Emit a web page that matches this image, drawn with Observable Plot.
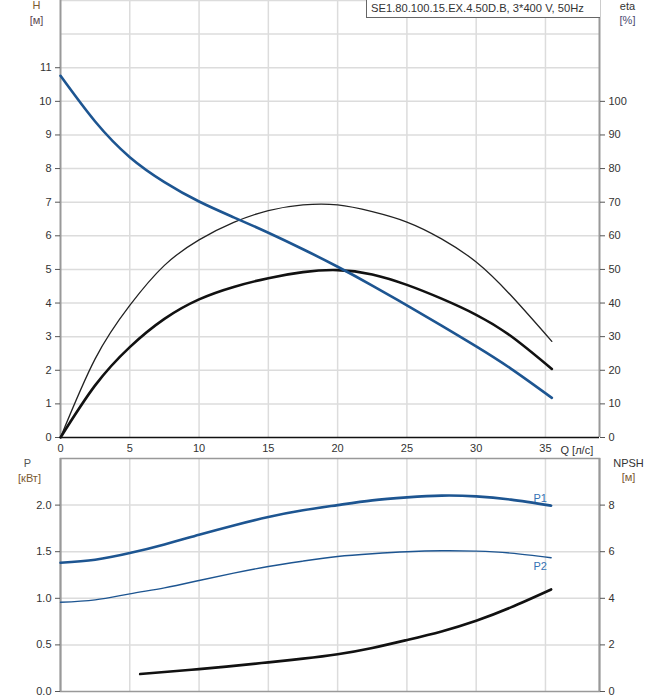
<!DOCTYPE html>
<html>
<head>
<meta charset="utf-8">
<script src="https://cdn.jsdelivr.net/npm/d3@7"></script>
<script src="https://cdn.jsdelivr.net/npm/@observablehq/plot@0.6"></script>
<style>
  body { margin: 0; background: white; }
  #wrap { position: relative; width: 658px; height: 700px; font-family: "Liberation Sans", Arial, sans-serif; }
  #title { position: absolute; left: 366px; top: 0; width: 229px; height: 17px; border-left: 1px solid #666; border-bottom: 1px solid #666; background: white; font-family: "Liberation Sans", Arial, sans-serif; font-size: 11.2px; color: #333; padding-left: 4px; line-height: 17px; white-space: nowrap; }
  svg { display: block; }
</style>
</head>
<body>
<div id="wrap"><div id="charts"></div><div id="title"></div></div>
<script>
// ---- data ----
const titleText = "SE1.80.100.15.EX.4.50D.B, 3*400 V, 50Hz";
const qTicks = [0, 5, 10, 15, 20, 25, 30, 35];
const hTicks = [0, 1, 2, 3, 4, 5, 6, 7, 8, 9, 10, 11];
const hGrid = [1, 2, 3, 4, 5, 6, 7, 8, 9, 10, 11, 12, 13];
const etaTicks = [0, 10, 20, 30, 40, 50, 60, 70, 80, 90, 100];
const pTicks = [0, 0.5, 1.0, 1.5, 2.0];
const npshTicks = [0, 2, 4, 6, 8];

const qTop = [0, 2.5, 5, 7.5, 10, 12.5, 15, 17.5, 20, 22.5, 25, 27.5, 30, 32.5, 35.46];
const hVals = [10.76, 9.4, 8.34, 7.6, 7.02, 6.55, 6.09, 5.6, 5.08, 4.52, 3.93, 3.33, 2.71, 2.05, 1.18];
const etaThin = [0, 23.4, 39.3, 51.2, 58.8, 64.0, 67.5, 69.2, 69.2, 67.2, 64.1, 59.1, 52.2, 42.3, 28.6];
const etaThick = [0, 15.5, 26.9, 35.3, 41.1, 44.8, 47.4, 49.2, 49.8, 48.5, 45.4, 41.3, 36.5, 30.2, 20.4];

const qP = [0, 2.5, 5, 7.5, 10, 12.5, 15, 17.5, 20, 22.5, 25, 27.5, 30, 32.5, 35.41];
const p1Vals = [1.381, 1.413, 1.485, 1.578, 1.682, 1.782, 1.872, 1.944, 2.0, 2.051, 2.083, 2.102, 2.094, 2.059, 1.994];
const p2Vals = [0.957, 0.983, 1.048, 1.112, 1.191, 1.27, 1.341, 1.399, 1.449, 1.478, 1.499, 1.51, 1.506, 1.485, 1.435];

const qNpsh = [5.75, 7.5, 10, 12.5, 15, 17.5, 20, 22.5, 25, 27.5, 30, 32.5, 35.41];
const npshVals = [0.75, 0.84, 0.96, 1.1, 1.25, 1.41, 1.6, 1.87, 2.21, 2.58, 3.04, 3.61, 4.38];

// ---- tables ----
const hData = qTop.map((q, i) => ({q, h: hVals[i]}));
const etaThinData = qTop.map((q, i) => ({q, eta: etaThin[i]}));
const etaThickData = qTop.map((q, i) => ({q, eta: etaThick[i]}));
const p1Data = qP.map((q, i) => ({q, p: p1Vals[i]}));
const p2Data = qP.map((q, i) => ({q, p: p2Vals[i]}));
const npshData = qNpsh.map((q, i) => ({q, n: npshVals[i]}));

const xMax = 38.9;
const font = "'Liberation Sans', Arial, sans-serif";
const gridStroke = "#dcdcdc";
const blue = "#1d5591";
const labelBlue = "#3572b5";
const textCol = "#333";
const fs = 11;
const smooth = d3.curveNatural;

function unitLabel(text, anchor, dx, dy, fill) {
  return Plot.text([text], {frameAnchor: anchor, textAnchor: "middle", lineAnchor: "middle", dx, dy, fill, fontSize: fs});
}

const topChart = Plot.plot({
  width: 658, height: 458,
  marginLeft: 60, marginRight: 59, marginTop: 0, marginBottom: 21,
  x: {domain: [0, xMax], axis: null},
  y: {domain: [0, 13], axis: null},
  style: {fontFamily: font, fontSize: fs + "px", color: textCol, background: "white", overflow: "visible"},
  marks: [
    Plot.gridX(qTicks.filter(d => d > 0), {stroke: gridStroke, strokeOpacity: 1, strokeWidth: 1.5}),
    Plot.gridY(hGrid, {stroke: gridStroke, strokeOpacity: 1, strokeWidth: 1.5}),
    Plot.ruleX([0], {stroke: "#999", strokeWidth: 2}),
    Plot.ruleX([xMax], {stroke: "#999", strokeWidth: 2}),
    Plot.ruleY([0], {stroke: "#111", strokeWidth: 1.5}),
    Plot.axisY(hTicks, {anchor: "left", tickSize: 5, tickPadding: 4, stroke: "#555", fill: textCol, label: null}),
    Plot.axisY(etaTicks.map(v => v / 10), {anchor: "right", tickSize: 5, tickPadding: 4, stroke: "#555", fill: textCol, label: null, tickFormat: d => String(Math.round(d * 10))}),
    Plot.axisX(qTicks, {anchor: "bottom", tickSize: 0, tickPadding: 7, fill: textCol, label: null}),
    Plot.line(etaThinData, {x: "q", y: d => d.eta / 10, stroke: "#222", strokeWidth: 1.3, curve: smooth}),
    Plot.line(etaThickData, {x: "q", y: d => d.eta / 10, stroke: "#111", strokeWidth: 2.6, curve: smooth}),
    Plot.line(hData, {x: "q", y: "h", stroke: blue, strokeWidth: 2.6, curve: smooth}),
    unitLabel("H", "top-left", -24, 5, "#7a5a30"),
    unitLabel("[м]", "top-left", -24, 20, "#5a4a50"),
    unitLabel("eta", "top-right", 28, 6, textCol),
    unitLabel("[%]", "top-right", 28, 20, "#4a4a70"),
    Plot.text(["Q [л/с]"], {frameAnchor: "bottom-right", textAnchor: "start", lineAnchor: "middle", dx: -39, dy: 13, fill: textCol, fontSize: fs})
  ]
});

const bottomChart = Plot.plot({
  width: 658, height: 242,
  marginLeft: 60, marginRight: 59, marginTop: 0, marginBottom: 9,
  x: {domain: [0, xMax], axis: null},
  y: {domain: [0, 2.5], axis: null},
  style: {fontFamily: font, fontSize: fs + "px", color: textCol, background: "white", overflow: "visible"},
  marks: [
    Plot.gridX(qTicks.filter(d => d > 0), {stroke: gridStroke, strokeOpacity: 1, strokeWidth: 1.5}),
    Plot.gridY(pTicks.filter(d => d > 0), {stroke: gridStroke, strokeOpacity: 1, strokeWidth: 1.5}),
    Plot.frame({stroke: "#999", strokeWidth: 1.5}),
    Plot.ruleX([0], {stroke: "#999", strokeWidth: 2}),
    Plot.ruleX([xMax], {stroke: "#999", strokeWidth: 2}),
    Plot.axisY(pTicks, {anchor: "left", tickSize: 5, tickPadding: 4, stroke: "#555", fill: textCol, label: null, tickFormat: d => d.toFixed(1)}),
    Plot.axisY(npshTicks.map(v => v / 4), {anchor: "right", tickSize: 5, tickPadding: 4, stroke: "#555", fill: textCol, label: null, tickFormat: d => String(Math.round(d * 4))}),
    Plot.line(npshData, {x: "q", y: d => d.n / 4, stroke: "#111", strokeWidth: 2.6, curve: smooth}),
    Plot.line(p2Data, {x: "q", y: "p", stroke: blue, strokeWidth: 1.4, curve: smooth}),
    Plot.line(p1Data, {x: "q", y: "p", stroke: blue, strokeWidth: 2.6, curve: smooth}),
    Plot.text([p1Data[p1Data.length - 1]], {x: "q", y: "p", text: () => "P1", dx: -11, dy: -7, fill: labelBlue, fontSize: fs}),
    Plot.text([p2Data[p2Data.length - 1]], {x: "q", y: "p", text: () => "P2", dx: -11, dy: 9, fill: labelBlue, fontSize: fs}),
    unitLabel("P", "top-left", -33, 5, "#555"),
    unitLabel("[кВт]", "top-left", -31, 20, "#7a5a30"),
    unitLabel("NPSH", "top-right", 29, 5, textCol),
    unitLabel("[м]", "top-right", 29, 19, "#7a5a30")
  ]
});

document.getElementById("charts").append(topChart, bottomChart);
document.getElementById("title").textContent = titleText;
</script>
</body>
</html>
